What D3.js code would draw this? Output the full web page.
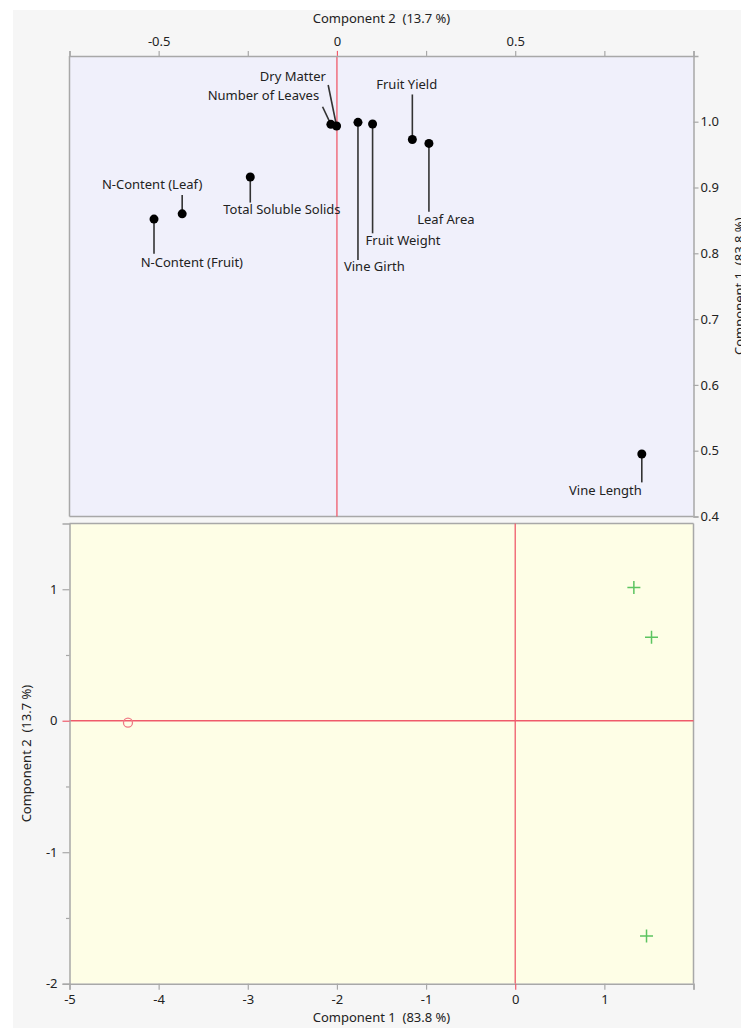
<!DOCTYPE html>
<html><head><meta charset="utf-8">
<script src="https://cdn.jsdelivr.net/npm/d3@7"></script>
<style>
html,body{margin:0;padding:0;background:#fff;}
svg text{font-family:"Segoe UI","Noto Sans","Open Sans",sans-serif;fill:#222;white-space:pre;}
</style></head>
<body><svg id="c" width="741" height="1028"></svg>
<script>
// ---- Data: loadings (top plot) ----
const loadingNames = ["Number of Leaves","Dry Matter","Vine Girth","Fruit Weight","Fruit Yield","Leaf Area","Total Soluble Solids","N-Content (Leaf)","N-Content (Fruit)","Vine Length"];
const loadingComp2 = [-0.017,-0.001,0.059,0.100,0.2115,0.258,-0.243,-0.434,-0.513,0.855];
const loadingComp1 = [0.996,0.9935,0.999,0.9965,0.973,0.967,0.916,0.860,0.852,0.495];
// ---- Data: scores (bottom plot) ----
const scoreComp1 = [-4.344,1.331,1.529,1.473];
const scoreComp2 = [-0.015,1.014,0.634,-1.637];
const scoreGroup = ["circle","plus","plus","plus"];
// ---- Tick labels ----
const topXTicks = [-0.5,0,0.5];
const topXMinor = [-0.75,-0.25,0.25,0.75,1.0];
const topYTicks = [0.4,0.5,0.6,0.7,0.8,0.9,1.0];
const botXTicks = [-5,-4,-3,-2,-1,0,1];
const botYTicks = [-2,-1,0,1];
const botYMinor = [-1.5,-0.5,0.5];
const comp1Title = "Component 1  (83.8 %)";
const comp2Title = "Component 2  (13.7 %)";

// label layout (pixel offsets from point): [anchor, textDx, textDy, lineDx, lineDy]
const labelLayout = [
  ["end",-11.7,-24.3,-8.3,-17.6],
  ["end",-10.7,-45.3,-8.4,-41],
  ["start",-14,148.4,0,137.7],
  ["start",-7,121.3,0,109.3],
  ["middle",-5.6,-50,0,-45],
  ["start",-11.7,80.7,0,68.4],
  ["start",-27,37.3,0,25.6],
  ["middle",-30,-24.7,0,-18.7],
  ["start",-13.3,47.7,0,34.7],
  ["end",0,40.7,0,28.4]
];

const FS = 13;
const fmt = d => String(d);            // plain hyphen minus like the reference
const fmt1 = d => d.toFixed(1);

const svg = d3.select("#c");
svg.append("rect").attr("x",13).attr("y",10).attr("width",741-13).attr("height",1028-10).attr("fill","#f6f6f6");

const L = 69.5, R = 693.5;
const RED = "#ef5b6b", FRAME = "#a8a8a8";

// ===== Top plot =====
const tT = 55.9, tB = 516.5;
const x1 = d3.scaleLinear().domain([-0.75,1.0]).range([L,R]);
const y1 = d3.scaleLinear().domain([0.4,1.1]).range([tB,tT]);
const gTop = svg.append("g");
gTop.append("rect").attr("x",L).attr("y",tT).attr("width",R-L).attr("height",tB-tT).attr("fill","#f0f0fb");

// top axis
const axTop = d3.axisTop(x1).tickValues(topXTicks.concat(topXMinor)).tickSize(5).tickPadding(5)
  .tickFormat(d => topXTicks.includes(d) ? fmt(d) : "");
const gAxTop = svg.append("g").attr("transform",`translate(0,${tT})`).call(axTop);
gAxTop.select(".domain").attr("stroke",FRAME).attr("stroke-width",1.5);
gAxTop.selectAll(".tick line").attr("stroke",d=>d===0?RED:FRAME).attr("stroke-width",1.2);
gAxTop.selectAll(".tick text").attr("font-size",FS).attr("fill","#222");
svg.append("text").attr("x",(L+R)/2).attr("y",23).attr("text-anchor","middle").attr("font-size",FS).text(comp2Title);

// right axis
const axR = d3.axisRight(y1).tickValues(topYTicks).tickSize(5).tickPadding(2).tickFormat(fmt1);
const gAxR = svg.append("g").attr("transform",`translate(${R},0)`).call(axR);
gAxR.select(".domain").attr("stroke",FRAME).attr("stroke-width",1.5);
gAxR.selectAll(".tick line").attr("stroke",FRAME).attr("stroke-width",1.2);
gAxR.selectAll(".tick text").attr("font-size",FS).attr("fill","#222");
svg.append("text").attr("transform",`translate(744,${(tT+tB)/2}) rotate(-90)`).attr("text-anchor","middle").attr("font-size",FS).text(comp1Title);

// frame left/bottom
gTop.append("line").attr("x1",L).attr("x2",L).attr("y1",tT).attr("y2",tB).attr("stroke",FRAME).attr("stroke-width",1.5);
gTop.append("line").attr("x1",L).attr("x2",R).attr("y1",tB).attr("y2",tB).attr("stroke",FRAME).attr("stroke-width",1.5);

// red reference line
gTop.append("line").attr("x1",x1(0)).attr("x2",x1(0)).attr("y1",tT).attr("y2",tB).attr("stroke",RED).attr("stroke-width",1.3);

// labels and leader lines
loadingNames.forEach((name,i)=>{
  const px = x1(loadingComp2[i]), py = y1(loadingComp1[i]);
  const [anc,tdx,tdy,ldx,ldy] = labelLayout[i];
  gTop.append("line").attr("x1",px).attr("y1",py).attr("x2",px+ldx).attr("y2",py+ldy)
    .attr("stroke","#333").attr("stroke-width",1.6);
  gTop.append("text").attr("x",px+tdx).attr("y",py+tdy).attr("text-anchor",anc).attr("font-size",FS).text(name);
});
loadingNames.forEach((name,i)=>{
  gTop.append("circle").attr("cx",x1(loadingComp2[i])).attr("cy",y1(loadingComp1[i])).attr("r",4.5).attr("fill","#000");
});

// ===== Bottom plot =====
const bT = 523.5, bB = 983.7;
const x2 = d3.scaleLinear().domain([-5,2]).range([L,R]);
const y2 = d3.scaleLinear().domain([-2,1.5]).range([bB,bT]);
const gBot = svg.append("g");
gBot.append("rect").attr("x",L).attr("y",bT).attr("width",R-L).attr("height",bB-bT).attr("fill","#fefee6");

const axB = d3.axisBottom(x2).tickValues(botXTicks.concat([2])).tickSize(6).tickPadding(5)
  .tickFormat(d => botXTicks.includes(d) ? fmt(d) : "");
const gAxB = svg.append("g").attr("transform",`translate(0,${bB})`).call(axB);
gAxB.select(".domain").attr("stroke",FRAME).attr("stroke-width",1.5);
gAxB.selectAll(".tick line").attr("stroke",d=>d===0?RED:FRAME).attr("stroke-width",1.2);
gAxB.selectAll(".tick text").attr("font-size",FS).attr("fill","#222");
svg.append("text").attr("x",(L+R)/2).attr("y",1022).attr("text-anchor","middle").attr("font-size",FS).text(comp1Title);

const axL = d3.axisLeft(y2).tickValues(botYTicks).tickSize(7).tickPadding(5).tickFormat(fmt);
const gAxL = svg.append("g").attr("transform",`translate(${L},0)`).call(axL);
gAxL.select(".domain").attr("stroke",FRAME).attr("stroke-width",1.5);
gAxL.selectAll(".tick line").attr("stroke",d=>d===0?RED:FRAME).attr("stroke-width",1.2);
gAxL.selectAll(".tick text").attr("font-size",FS).attr("fill","#222");
const axLm = d3.axisLeft(y2).tickValues(botYMinor).tickSize(3.5).tickFormat("");
const gAxLm = svg.append("g").attr("transform",`translate(${L},0)`).call(axLm);
gAxLm.select(".domain").remove();
gAxLm.selectAll(".tick line").attr("stroke",FRAME).attr("stroke-width",1.2);
svg.append("text").attr("transform",`translate(31,${(bT+bB)/2}) rotate(-90)`).attr("text-anchor","middle").attr("font-size",FS).text(comp2Title);

gBot.append("line").attr("x1",L).attr("x2",R).attr("y1",bT).attr("y2",bT).attr("stroke",FRAME).attr("stroke-width",1.5);
gBot.append("line").attr("x1",R).attr("x2",R).attr("y1",bT).attr("y2",bB).attr("stroke",FRAME).attr("stroke-width",1.5);

gBot.append("line").attr("x1",x2(0)).attr("x2",x2(0)).attr("y1",bT).attr("y2",bB).attr("stroke",RED).attr("stroke-width",1.3);
gBot.append("line").attr("x1",L).attr("x2",R).attr("y1",y2(0)).attr("y2",y2(0)).attr("stroke",RED).attr("stroke-width",1.3);

scoreComp1.forEach((v,i)=>{
  const px = x2(v), py = y2(scoreComp2[i]);
  if(scoreGroup[i]==="circle"){
    gBot.append("circle").attr("cx",px).attr("cy",py).attr("r",4.5).attr("fill","none").attr("stroke","#f07a85").attr("stroke-width",1.3);
  } else {
    gBot.append("path").attr("d",`M${px-6.5},${py}H${px+6.5}M${px},${py-6.5}V${py+6.5}`).attr("stroke","#5cc460").attr("stroke-width",1.5);
  }
});
</script></body></html>
